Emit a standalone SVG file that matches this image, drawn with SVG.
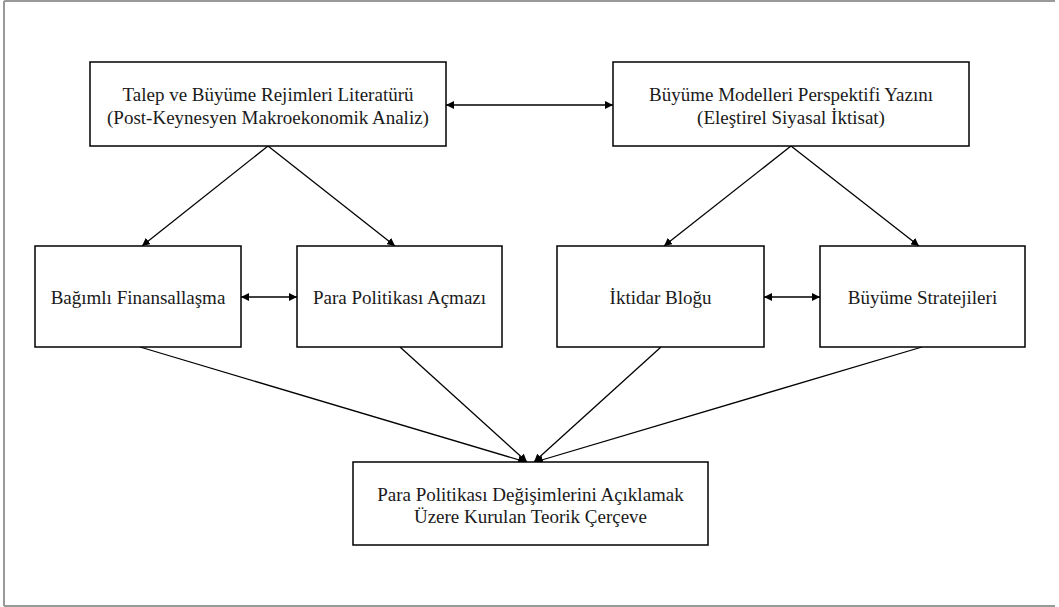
<svg xmlns="http://www.w3.org/2000/svg" width="1059" height="607" viewBox="0 0 1059 607">
<style>
.box{fill:#fff;stroke:#000;stroke-width:1.5}
.t{font-family:"Liberation Serif","Times New Roman",serif;font-size:19px;fill:#1a1a1a;text-anchor:middle;dominant-baseline:central}
.c{stroke:#000;stroke-width:1.3;fill:none}
</style>
<defs>
<marker id="ah" viewBox="0 0 10 10" refX="10" refY="5" markerWidth="8" markerHeight="8" markerUnits="userSpaceOnUse" orient="auto-start-reverse">
<path d="M0,0 L10,5 L0,10 z" fill="#000"/>
</marker>
</defs>
<rect width="1059" height="607" fill="#fff"/>
<g id="frame" stroke="#999" stroke-width="2" fill="none">
<line x1="4" y1="1" x2="1055" y2="1"/>
<line x1="4" y1="1" x2="4" y2="606"/>
<line x1="4" y1="606" x2="1055" y2="606"/>
</g>
<g id="connectors">
<line class="c" x1="446" y1="105" x2="613" y2="105" marker-start="url(#ah)" marker-end="url(#ah)"/>
<line class="c" x1="241" y1="297" x2="297" y2="297" marker-start="url(#ah)" marker-end="url(#ah)"/>
<line class="c" x1="764" y1="297" x2="820" y2="297" marker-start="url(#ah)" marker-end="url(#ah)"/>
<line class="c" x1="268" y1="146" x2="142" y2="246" marker-end="url(#ah)"/>
<line class="c" x1="268" y1="146" x2="395" y2="246" marker-end="url(#ah)"/>
<line class="c" x1="791" y1="146" x2="664" y2="246" marker-end="url(#ah)"/>
<line class="c" x1="791" y1="146" x2="919" y2="246" marker-end="url(#ah)"/>
<line class="c" x1="140" y1="347" x2="526" y2="462" marker-end="url(#ah)"/>
<line class="c" x1="400" y1="347" x2="527" y2="462" marker-end="url(#ah)"/>
<line class="c" x1="661" y1="347" x2="534" y2="462" marker-end="url(#ah)"/>
<line class="c" x1="922" y1="347" x2="535" y2="462" marker-end="url(#ah)"/>
</g>
<g id="n1"><rect class="box" x="90" y="62" width="356" height="84"/>
<text class="t" x="268" y="94">Talep ve Büyüme Rejimleri Literatürü</text>
<text class="t" x="268" y="117">(Post-Keynesyen Makroekonomik Analiz)</text></g>
<g id="n2"><rect class="box" x="613" y="62" width="356" height="84"/>
<text class="t" x="791" y="94">Büyüme Modelleri Perspektifi Yazını</text>
<text class="t" x="791" y="117">(Eleştirel Siyasal İktisat)</text></g>
<g id="n3"><rect class="box" x="35" y="246" width="206" height="101"/>
<text class="t" x="138" y="297">Bağımlı Finansallaşma</text></g>
<g id="n4"><rect class="box" x="297" y="246" width="205" height="101"/>
<text class="t" x="399.5" y="297">Para Politikası Açmazı</text></g>
<g id="n5"><rect class="box" x="557" y="246" width="207" height="101"/>
<text class="t" x="660.5" y="297">İktidar Bloğu</text></g>
<g id="n6"><rect class="box" x="820" y="246" width="205" height="101"/>
<text class="t" x="922.5" y="297">Büyüme Stratejileri</text></g>
<g id="n7"><rect class="box" x="353" y="462" width="355" height="83"/>
<text class="t" x="530.5" y="494">Para Politikası Değişimlerini Açıklamak</text>
<text class="t" x="530.5" y="516">Üzere Kurulan Teorik Çerçeve</text></g>
</svg>
